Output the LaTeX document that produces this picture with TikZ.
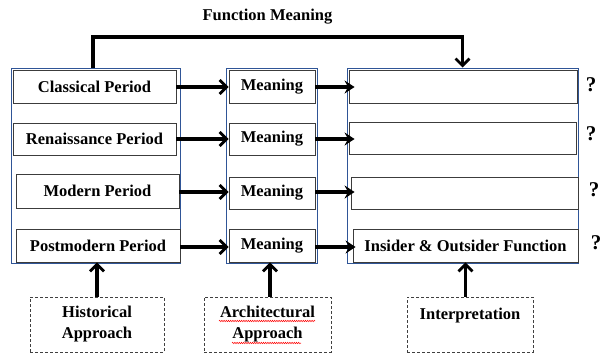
\documentclass[tikz,border=0pt]{standalone}
\usepackage{fontspec}
\setmainfont{Liberation Serif}
\usetikzlibrary{arrows.meta,decorations.pathmorphing}
\definecolor{groupblue}{RGB}{47,85,151}
\definecolor{cellline}{RGB}{60,60,60}
\tikzset{
  base/.style={font=\fontsize{16.5}{21}\selectfont\bfseries},
  group/.style={draw=groupblue, line width=1pt, inner sep=0pt},
  cell/.style={base, draw=cellline, line width=0.9pt, inner sep=0pt, fill=white},
  approach/.style={base, draw=black!75, line width=0.8pt, dash pattern=on 3pt off 2pt,
    inner sep=0pt, align=center, minimum height=55pt},
  thick arrow/.style={line width=3.2pt, -{Straight Barb[length=7pt,width=14pt,line width=2.8pt]}},
  solid arrow/.style={line width=3.2pt, -{Stealth[length=10pt,width=13pt,inset=3.5pt]}},
  mark q/.style={font=\fontsize{21}{21}\selectfont\bfseries, inner sep=0pt},
  squiggle/.style={red, line width=0.5pt, decorate,
    decoration={snake, amplitude=0.7pt, segment length=2.2pt}}
}
\begin{document}
\begin{tikzpicture}[x=1pt,y=-1pt]
\useasboundingbox (0,0) rectangle (600,354);

% three grouping frames
\node[group, minimum width=169pt, minimum height=195pt] (g1) at (95.5,165.5) {};
\node[group, minimum width=91pt,  minimum height=195pt] (g2) at (271.5,165.5) {};
\node[group, minimum width=231pt, minimum height=195pt] (g3) at (462.5,165.5) {};

% periods
\node[cell, minimum width=163pt, minimum height=33pt] (c1) at (94.5,86.5) {Classical Period};
\node[cell, minimum width=163pt, minimum height=32pt] (c2) at (94.5,139) {Renaissance Period};
\node[cell, minimum width=163pt, minimum height=34pt] (c3) at (97.5,191) {Modern Period};
\node[cell, minimum width=164pt, minimum height=33pt] (c4) at (98,245.5) {Postmodern Period};

% meanings
\node[cell, minimum width=86pt, minimum height=33pt] (m1) at (272,86.5) {Meaning};
\node[cell, minimum width=86pt, minimum height=32pt] (m2) at (272,139) {Meaning};
\node[cell, minimum width=86pt, minimum height=32pt] (m3) at (272,193) {Meaning};
\node[cell, minimum width=86pt, minimum height=33pt] (m4) at (272,245.5) {Meaning};

% functions
\node[cell, minimum width=228pt, minimum height=33pt] (f1) at (463,86.5) {};
\node[cell, minimum width=227pt, minimum height=32pt] (f2) at (462.5,138) {};
\node[cell, minimum width=227pt, minimum height=32pt] (f3) at (464.5,193) {};
\node[cell, minimum width=225pt, minimum height=33pt] (f4) at (465.5,245.5) {Insider \& Outsider Function};

% open questions
\node[mark q] (q1) at (591,85) {?};
\node[mark q] (q2) at (591,134) {?};
\node[mark q] (q3) at (594,190) {?};
\node[mark q] (q4) at (596,243) {?};

% title of the top connector
\node[base] (title) at (267.5,17) {Function Meaning};

% approaches
\node[approach, minimum width=134pt] (h) at (97,324.5) {Historical\\Approach};
\node[approach, minimum width=127pt] (a) at (267.5,324.5) {Architectural\\Approach};
\node[approach, minimum width=126pt] (ip) at (470,324.5) {Interpretation\\\mbox{}};

% spell-check marks under the architectural label
\coordinate (s1a) at (219,321);
\coordinate (s1b) at (315,321);
\coordinate (s2a) at (232,343);
\coordinate (s2b) at (301,343);
\draw[squiggle] (s1a) -- (s1b);
\draw[squiggle] (s2a) -- (s2b);

% period -> meaning
\draw[thick arrow] (c1.east |- 0,87) -- (m1.west |- 0,87);
\draw[thick arrow] (c2.east) -- (m2.west);
\draw[thick arrow] (c3.east |- 0,192) -- (m3.west |- 0,192);
\draw[thick arrow] (c4.east |- 0,247) -- (m4.west |- 0,247);

% meaning -> function
\draw[solid arrow] (m1.east |- 0,87) -- ([xshift=6pt]f1.west |- 0,87);
\draw[solid arrow] (m2.east) -- ([xshift=6pt]f2.west |- m2.east);
\draw[solid arrow] (m3.east |- 0,192) -- ([xshift=4pt]f3.west |- 0,192);
\draw[solid arrow] (m4.east |- 0,247) -- ([xshift=3pt]f4.west |- 0,247);

% top connector
\coordinate (topL) at (93,37);
\draw[thick arrow] (g1.north -| topL) -- (topL) -| (g3.north);

% approaches feed the frames
\draw[thick arrow] (h.north) -- (h.north |- c4.south);
\draw[thick arrow] (a.north -| 270,0) -- (m4.south -| 270,0);
\draw[thick arrow] (ip.north -| f4.south) -- (f4.south);
\end{tikzpicture}
\end{document}
